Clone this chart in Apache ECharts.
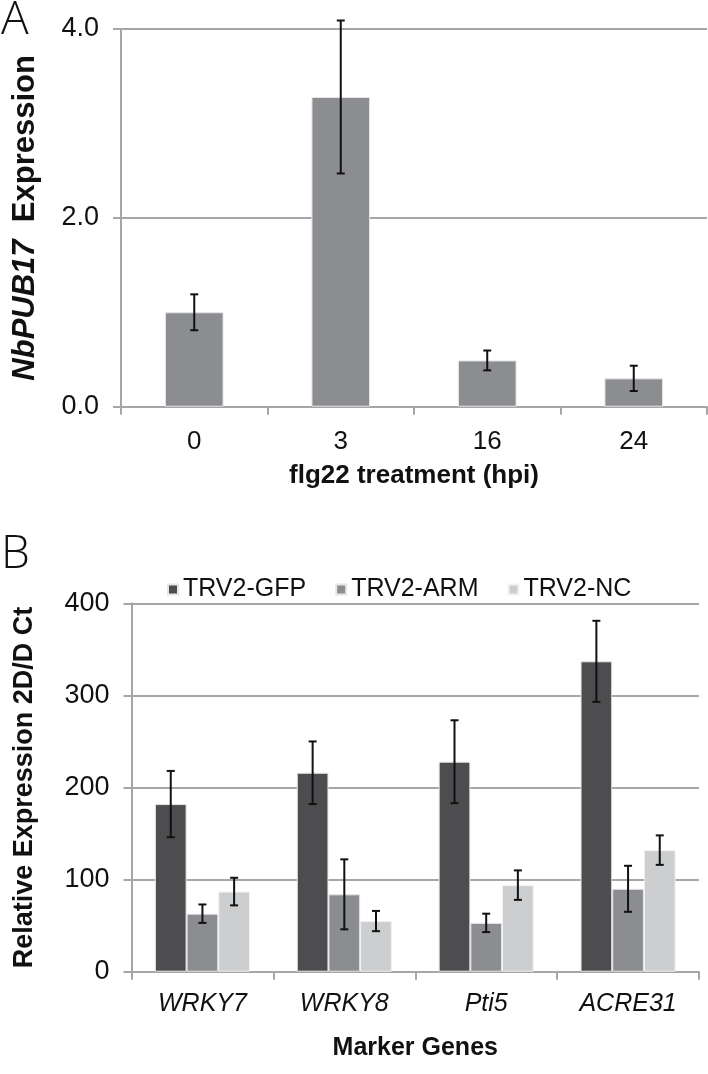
<!DOCTYPE html>
<html>
<head>
<meta charset="utf-8">
<script src="https://cdn.jsdelivr.net/npm/echarts@6/dist/echarts.min.js"></script>
<style>html,body{margin:0;padding:0;background:#fff}#c{width:708px;height:1074px}</style>
</head>
<body>
<div id="c"></div>
<script>
// Panel A data
const catsA = ['0', '3', '16', '24'];
const valsA = [1.00, 3.28, 0.49, 0.30];
const errA = [0.19, 0.81, 0.105, 0.134];
const ticksA = [0, 2, 4];

// Panel B data
const catsB = ['WRKY7', 'WRKY8', 'Pti5', 'ACRE31'];
const seriesNamesB = ['TRV2-GFP', 'TRV2-ARM', 'TRV2-NC'];
const gfp = [182, 216, 228, 337];
const arm = [63, 84, 53, 90];
const nc = [87, 55, 94, 132];
const gfpErr = [36, 34, 45, 44];
const armErr = [10, 38, 10, 25];
const ncErr = [15, 11, 16, 16];
const ticksB = [0, 100, 200, 300, 400];

const NARROW = "'Liberation Sans Narrow', 'Liberation Sans', Arial, sans-serif";
const BOLD = "'Liberation Sans', Arial, sans-serif";
const colorsB = ['#4d4d4f', '#8c8d90', '#cdcecf'];
const gridColor = '#a6a6a6';

const chart = echarts.init(document.getElementById('c'));

function errSeries(name, xIdx, yIdx, vals, errs, offsetIndex, nSeries, gapFrac) {
  return {
    type: 'custom',
    name: name,
    xAxisIndex: xIdx,
    yAxisIndex: yIdx,
    z: 10,
    silent: true,
    data: vals.map((v, i) => [i, v, errs[i]]),
    renderItem: function (params, api) {
      const i = api.value(0), v = api.value(1), e = api.value(2);
      const bandW = api.size([1, 0])[0];
      const barW = bandW * (1 - gapFrac) / nSeries;
      const off = (offsetIndex - (nSeries - 1) / 2) * barW;
      const top = api.coord([i, v + e]);
      const bot = api.coord([i, v - e]);
      const x = top[0] + off;
      const cap = 4;
      const st = { stroke: '#111', lineWidth: 2 };
      return {
        type: 'group',
        children: [
          { type: 'line', shape: { x1: x, y1: top[1], x2: x, y2: bot[1] }, style: st },
          { type: 'line', shape: { x1: x - cap, y1: top[1], x2: x + cap, y2: top[1] }, style: st },
          { type: 'line', shape: { x1: x - cap, y1: bot[1], x2: x + cap, y2: bot[1] }, style: st }
        ]
      };
    }
  };
}

const option = {
  backgroundColor: '#fff',
  animation: false,
  graphic: [
    { type: 'text', left: 1, top: -2, style: { text: 'A', font: "300 46px 'Open Sans', 'DejaVu Sans', sans-serif", fill: '#111' } },
    { type: 'text', left: 1, top: 532, style: { text: 'B', font: "300 46px 'Open Sans', 'DejaVu Sans', sans-serif", fill: '#111' } }
  ],
  legend: {
    data: seriesNamesB,
    left: 162,
    top: 572,
    icon: 'rect',
    itemWidth: 10,
    itemHeight: 10,
    itemGap: 29,
    textStyle: { fontFamily: NARROW, fontSize: 25, color: '#111', padding: [0, 0, 0, 0] }
  },
  grid: [
    { left: 121, right: 1, top: 29, height: 377.7, containLabel: false },
    { left: 131.5, right: 9, top: 603.3, height: 368.4, containLabel: false }
  ],
  xAxis: [
    {
      gridIndex: 0, type: 'category', data: catsA,
      axisLine: { lineStyle: { color: gridColor, width: 2 } },
      axisTick: { show: true, length: 8, alignWithLabel: false, lineStyle: { color: gridColor, width: 2 } },
      axisLabel: { fontFamily: NARROW, fontSize: 26, color: '#111', margin: 22 },
      name: 'flg22 treatment (hpi)', nameLocation: 'middle', nameGap: 56,
      nameTextStyle: { fontFamily: NARROW, fontWeight: 'bold', fontSize: 26, color: '#111' }
    },
    {
      gridIndex: 1, type: 'category', data: catsB,
      axisLine: { lineStyle: { color: gridColor, width: 2 } },
      axisTick: { show: true, length: 8, lineStyle: { color: gridColor, width: 2 } },
      axisLabel: { fontFamily: NARROW, fontStyle: 'italic', fontSize: 25, color: '#111', margin: 20 },
      name: 'Marker Genes', nameLocation: 'middle', nameGap: 64,
      nameTextStyle: { fontFamily: NARROW, fontWeight: 'bold', fontSize: 25, color: '#111' }
    }
  ],
  yAxis: [
    {
      gridIndex: 0, type: 'value', min: ticksA[0], max: ticksA[ticksA.length - 1], interval: 2,
      axisLine: { show: true, lineStyle: { color: gridColor, width: 2 } },
      axisTick: { show: true, length: 8, lineStyle: { color: gridColor, width: 2 } },
      splitLine: { show: true, lineStyle: { color: gridColor, width: 2 } },
      axisLabel: { fontFamily: NARROW, fontSize: 27, color: '#111', margin: 22, formatter: v => v.toFixed(1) },
      name: '{i|NbPUB17}{b|  Expression}', nameLocation: 'middle', nameGap: 80,
      nameTextStyle: {
        rich: {
          i: { fontFamily: BOLD, fontWeight: 'bold', fontStyle: 'italic', fontSize: 31, color: '#111' },
          b: { fontFamily: BOLD, fontWeight: 'bold', fontSize: 31, color: '#111' }
        }
      }
    },
    {
      gridIndex: 1, type: 'value', min: ticksB[0], max: ticksB[ticksB.length - 1], interval: 100,
      axisLine: { show: true, lineStyle: { color: gridColor, width: 2 } },
      axisTick: { show: true, length: 8, lineStyle: { color: gridColor, width: 2 } },
      splitLine: { show: true, lineStyle: { color: gridColor, width: 2 } },
      axisLabel: { fontFamily: NARROW, fontSize: 27, color: '#111', margin: 22 },
      name: 'Relative Expression 2D/D Ct', nameLocation: 'middle', nameGap: 93,
      nameTextStyle: { fontFamily: BOLD, fontWeight: 'bold', fontSize: 27, color: '#111' }
    }
  ],
  series: [
    {
      type: 'bar', name: 'A', xAxisIndex: 0, yAxisIndex: 0, data: valsA,
      barCategoryGap: '60%',
      itemStyle: { color: '#8c8d91', borderColor: '#e6e6e6', borderWidth: 1 }
    },
    errSeries('A-err', 0, 0, valsA, errA, 0, 1, 0.6),
    {
      type: 'bar', name: seriesNamesB[0], xAxisIndex: 1, yAxisIndex: 1, data: gfp,
      barGap: '0%', barCategoryGap: '33%',
      itemStyle: { color: colorsB[0], borderColor: '#e6e6e6', borderWidth: 1 }
    },
    {
      type: 'bar', name: seriesNamesB[1], xAxisIndex: 1, yAxisIndex: 1, data: arm,
      barGap: '0%', barCategoryGap: '33%',
      itemStyle: { color: colorsB[1], borderColor: '#e6e6e6', borderWidth: 1 }
    },
    {
      type: 'bar', name: seriesNamesB[2], xAxisIndex: 1, yAxisIndex: 1, data: nc,
      barGap: '0%', barCategoryGap: '33%',
      itemStyle: { color: colorsB[2], borderColor: '#f2f2f2', borderWidth: 1 }
    },
    errSeries('GFP-err', 1, 1, gfp, gfpErr, 0, 3, 0.33),
    errSeries('ARM-err', 1, 1, arm, armErr, 1, 3, 0.33),
    errSeries('NC-err', 1, 1, nc, ncErr, 2, 3, 0.33)
  ]
};
chart.setOption(option);
</script>
</body>
</html>
